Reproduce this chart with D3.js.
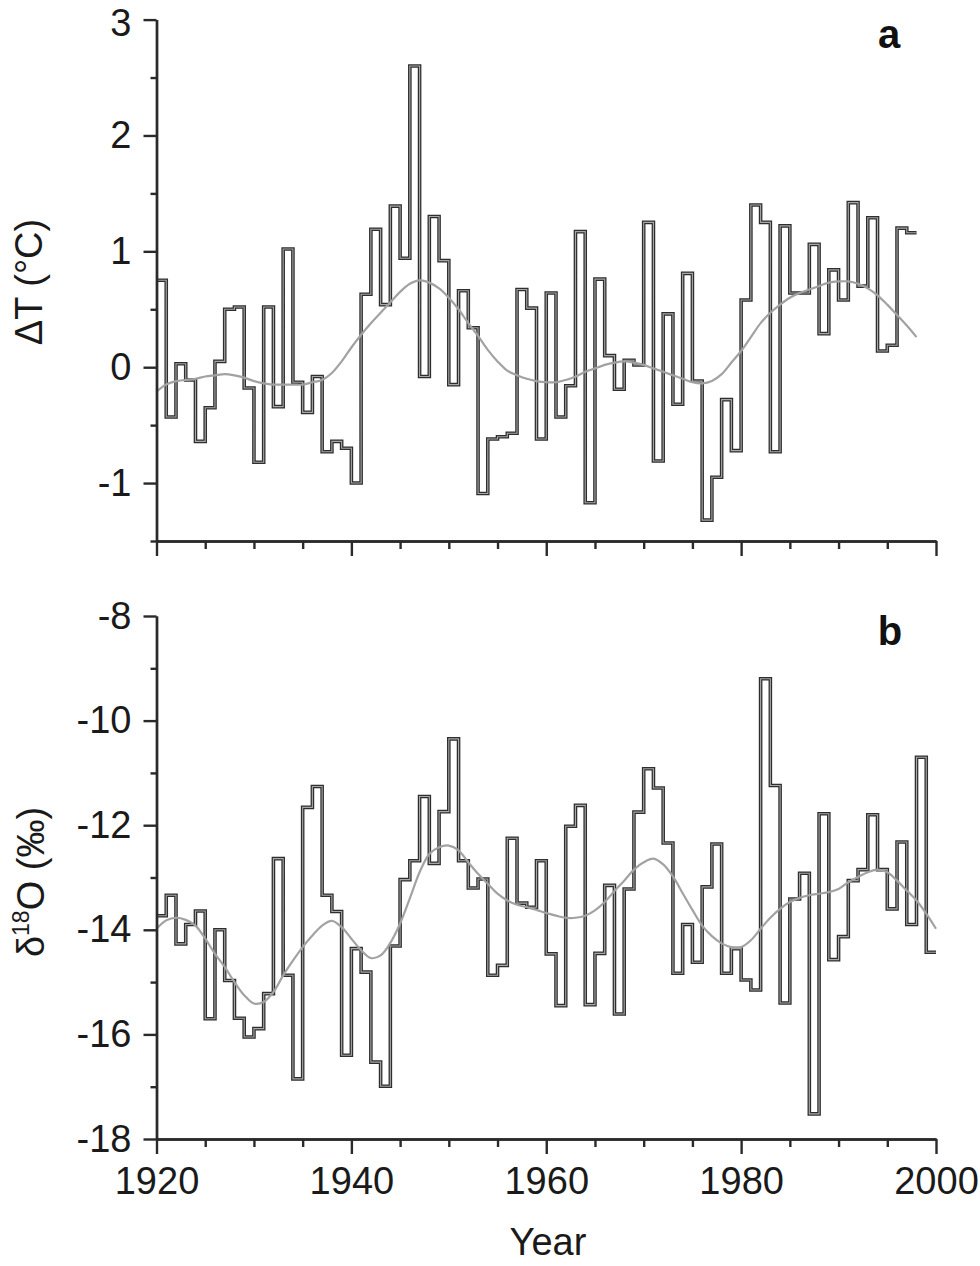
<!DOCTYPE html>
<html><head><meta charset="utf-8">
<script src="https://cdn.jsdelivr.net/npm/d3@7"></script>
<style>body{margin:0;background:#fff} svg{display:block}</style>
</head><body><svg id="c" width="980" height="1266"></svg>
<script>
// ---------- DATA ----------
const tempStartYear = 1920;
const tempValues = [
  0.75,-0.43,0.03,-0.11,-0.64,-0.35,0.05,0.50,0.52,-0.18,
 -0.82,0.52,-0.34,1.02,-0.13,-0.39,-0.08,-0.73,-0.64,-0.70,
 -1.00,0.63,1.19,0.54,1.39,0.94,2.60,-0.08,1.30,0.92,
 -0.15,0.66,0.34,-1.09,-0.62,-0.60,-0.57,0.67,0.51,-0.62,
  0.64,-0.43,-0.16,1.17,-1.17,0.76,0.10,-0.19,0.06,0.02,
  1.25,-0.81,0.46,-0.32,0.81,-0.12,-1.32,-0.95,-0.28,-0.72,
  0.58,1.40,1.25,-0.73,1.22,0.64,0.64,1.06,0.29,0.84,
  0.58,1.42,0.70,1.29,0.14,0.19,1.20,1.16
];
const tempSmooth = [
 -0.21,-0.15,-0.12,-0.11,-0.10,-0.08,-0.07,-0.06,-0.07,-0.09,
 -0.12,-0.14,-0.15,-0.15,-0.15,-0.15,-0.13,-0.11,-0.05,0.05,
  0.17,0.28,0.38,0.47,0.56,0.65,0.72,0.75,0.73,0.68,
  0.60,0.50,0.38,0.27,0.15,0.05,-0.03,-0.07,-0.10,-0.12,
 -0.13,-0.13,-0.11,-0.08,-0.04,-0.01,0.02,0.04,0.05,0.04,
  0.02,-0.01,-0.04,-0.07,-0.10,-0.13,-0.14,-0.12,-0.06,0.04,
  0.14,0.26,0.38,0.47,0.54,0.60,0.64,0.67,0.70,0.73,
  0.74,0.74,0.72,0.68,0.62,0.54,0.45,0.36,0.26
];
const isoStartYear = 1920;
const isoValues = [
 -13.73,-13.34,-14.27,-13.90,-13.64,-15.70,-14.00,-14.97,-15.69,-16.05,
 -15.89,-15.22,-12.64,-14.87,-16.85,-11.66,-11.26,-13.34,-13.65,-16.40,
 -14.36,-14.81,-16.53,-16.99,-14.31,-13.04,-12.68,-11.45,-12.73,-11.74,
 -10.35,-12.68,-13.20,-13.03,-14.87,-14.68,-12.25,-13.49,-13.57,-12.68,
 -14.46,-15.45,-12.02,-11.62,-15.43,-14.45,-13.15,-15.61,-13.22,-11.75,
 -10.92,-11.29,-12.34,-14.83,-13.90,-14.62,-13.18,-12.36,-14.83,-14.36,
 -14.96,-15.15,-9.20,-11.24,-15.40,-13.41,-12.92,-17.52,-11.78,-14.57,
 -14.13,-13.06,-12.85,-11.80,-12.85,-13.60,-12.32,-13.90,-10.70,-14.43
];
const isoSmooth = [
 -13.98,-13.82,-13.77,-13.81,-13.92,-14.17,-14.46,-14.71,-15.00,-15.25,
 -15.41,-15.38,-15.19,-14.87,-14.59,-14.33,-14.11,-13.92,-13.83,-13.95,
 -14.17,-14.39,-14.54,-14.49,-14.25,-13.88,-13.40,-12.90,-12.55,-12.42,
 -12.39,-12.48,-12.71,-12.93,-13.12,-13.31,-13.44,-13.52,-13.57,-13.62,
 -13.68,-13.73,-13.77,-13.77,-13.73,-13.63,-13.47,-13.26,-13.06,-12.85,
 -12.71,-12.64,-12.75,-12.98,-13.30,-13.62,-13.92,-14.12,-14.26,-14.33,
 -14.33,-14.20,-13.98,-13.77,-13.60,-13.47,-13.39,-13.34,-13.31,-13.28,
 -13.22,-13.09,-12.99,-12.90,-12.85,-12.90,-13.06,-13.25,-13.44,-13.69,
 -13.98
];
const xMajorTicks = [1920,1940,1960,1980,2000];
const xMinorTicks = [1925,1930,1935,1945,1950,1955,1965,1970,1975,1985,1990,1995];
const tempMajorTicks = [-1,0,1,2,3];
const tempMinorTicks = [-1.5,-0.5,0.5,1.5,2.5];
const isoMajorTicks = [-18,-16,-14,-12,-10,-8];
const isoMinorTicks = [-17,-15,-13,-11,-9];

// ---------- DRAW ----------
const FONT = "'Liberation Sans', Arial, Helvetica, sans-serif";
const svg = d3.select("#c");
const x = d3.scaleLinear().domain([1920, 2000]).range([156.5, 936]);
const yT = d3.scaleLinear().domain([-1.5, 3]).range([541, 19.6]);
const yO = d3.scaleLinear().domain([-18, -8]).range([1139, 616]);

function stepData(start, vals){
  const d = vals.map((v,i)=>[start+i, v]);
  d.push([start+vals.length, vals[vals.length-1]]);
  return d;
}
function smoothData(start, vals){ return vals.map((v,i)=>[start+i, v]); }

function panel(y, majorY, minorY, vals, start, smooth, showXLabels){
  const g = svg.append("g");
  const stepLine = d3.line().x(d=>x(d[0])).y(d=>y(d[1])).curve(d3.curveStepAfter);
  const sd = stepData(start, vals);
  g.append("path").attr("d", stepLine(sd)).attr("fill","none")
    .attr("stroke","#2e2e2e").attr("stroke-width",3.6).attr("stroke-linejoin","miter");
  g.append("path").attr("d", stepLine(sd)).attr("fill","none")
    .attr("stroke","#a8a8a8").attr("stroke-width",1.1).attr("stroke-linejoin","miter");
  const sm = d3.line().x(d=>x(d[0])).y(d=>y(d[1])).curve(d3.curveCatmullRom);
  g.append("path").attr("d", sm(smoothData(start, smooth))).attr("fill","none")
    .attr("stroke","#a2a2a2").attr("stroke-width",2.2);

  const y0 = y.range()[0];
  const axStyle = sel => {
    sel.selectAll("path,line").attr("stroke","#2a2a2a").attr("stroke-width",2.4);
    sel.selectAll("text").attr("font-family",FONT).attr("font-size",38).attr("fill","#1a1a1a");
  };
  g.append("g").attr("transform",`translate(0,${y0})`)
    .call(d3.axisBottom(x).tickValues(xMinorTicks).tickSize(8).tickSizeOuter(0).tickFormat(""))
    .call(axStyle);
  g.append("g").attr("transform",`translate(0,${y0})`)
    .call(d3.axisBottom(x).tickValues(xMajorTicks).tickSize(15).tickSizeOuter(0).tickPadding(13)
      .tickFormat(showXLabels ? d3.format("d") : ""))
    .call(axStyle);
  g.append("g").attr("transform",`translate(${x.range()[0]},0)`)
    .call(d3.axisLeft(y).tickValues(minorY).tickSize(6).tickSizeOuter(0).tickFormat(""))
    .call(axStyle);
  g.append("g").attr("transform",`translate(${x.range()[0]},0)`)
    .call(d3.axisLeft(y).tickValues(majorY).tickSize(13).tickSizeOuter(0).tickPadding(12)
      .tickFormat(d => d3.format("d")(d).replace("−","-")))
    .call(axStyle);
  return g;
}

panel(yT, tempMajorTicks, tempMinorTicks, tempValues, tempStartYear, tempSmooth, false);
panel(yO, isoMajorTicks, isoMinorTicks, isoValues, isoStartYear, isoSmooth, true);

// keep the top "3" label inside the canvas
svg.selectAll("text").filter(function(){ return this.textContent === "3"; }).attr("dy","0.42em");

svg.append("text").attr("x",889).attr("y",48).attr("text-anchor","middle")
  .attr("font-family",FONT).attr("font-size",40).attr("font-weight","bold").attr("fill","#111").text("a");
svg.append("text").attr("x",890).attr("y",645).attr("text-anchor","middle")
  .attr("font-family",FONT).attr("font-size",40).attr("font-weight","bold").attr("fill","#111").text("b");

svg.append("text").attr("transform","translate(42,282) rotate(-90)").attr("text-anchor","middle")
  .attr("font-family",FONT).attr("font-size",38).attr("fill","#1a1a1a").text("ΔT (°C)");
const t2 = svg.append("text").attr("transform","translate(44,882) rotate(-90)").attr("text-anchor","middle")
  .attr("font-family",FONT).attr("font-size",38).attr("fill","#1a1a1a");
t2.append("tspan").text("δ");
t2.append("tspan").attr("font-size",23).attr("dy",-15).text("18");
t2.append("tspan").attr("dy",15).text("O (‰)");
svg.append("text").attr("x",548).attr("y",1255).attr("text-anchor","middle")
  .attr("font-family",FONT).attr("font-size",38).attr("fill","#1a1a1a").text("Year");
</script></body></html>
